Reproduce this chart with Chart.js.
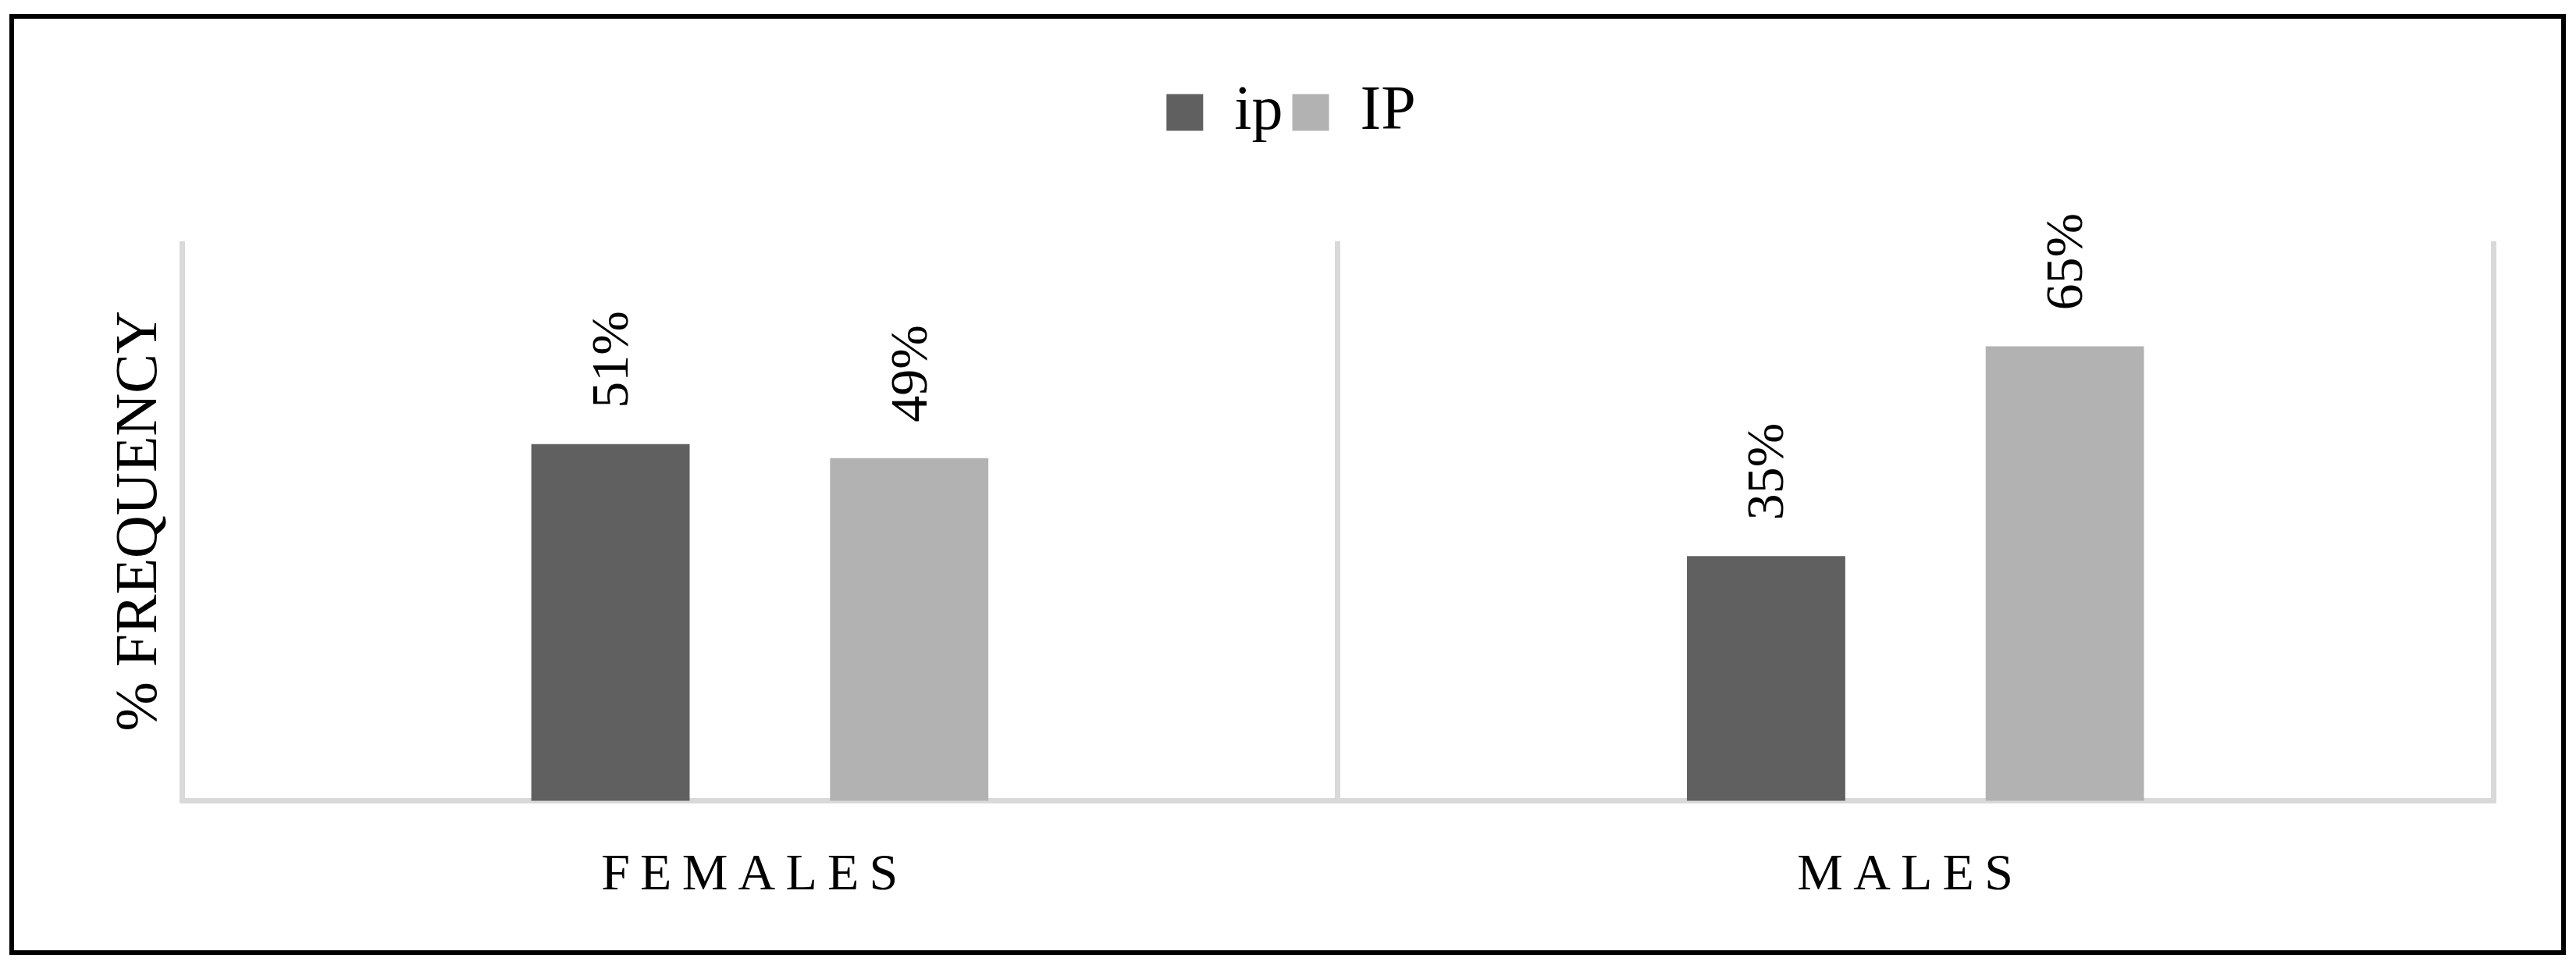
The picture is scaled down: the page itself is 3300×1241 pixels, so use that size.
<!DOCTYPE html>
<html>
<head>
<meta charset="utf-8">
<script src="https://cdn.jsdelivr.net/npm/chart.js@4.4.0/dist/chart.umd.min.js"></script>
<style>
  html, body { margin: 0; padding: 0; background: #fff; }
  #frame {
    position: absolute;
    left: 12px;
    top: 18px;
    border: 6px solid #000;
    width: 3263px;
    height: 1193px;
  }
  #chart { display: block; }
</style>
</head>
<body>
<div id="frame"><canvas id="chart" width="3263" height="1193"></canvas></div>
<script>
// dados do gráfico
const categories = ['FEMALES', 'MALES'];
const seriesNames = ['ip', 'IP'];
const ipValues = [51, 35];
const IPValues = [49, 65];
const yAxisTitle = '% FREQUENCY';

const serif = "'Palatino Linotype', 'Book Antiqua', Palatino, 'Liberation Serif', serif";

// Rótulos rotacionados acima das barras
const barLabels = {
  id: 'barLabels',
  afterDatasetsDraw(chart) {
    const ctx = chart.ctx;
    ctx.save();
    ctx.font = '68px ' + serif;
    ctx.fillStyle = '#000';
    ctx.textAlign = 'left';
    ctx.textBaseline = 'middle';
    chart.data.datasets.forEach((ds, i) => {
      chart.getDatasetMeta(i).data.forEach((bar, j) => {
        ctx.save();
        ctx.translate(bar.x + 4, bar.y - 46);
        ctx.rotate(-Math.PI / 2);
        ctx.fillText(ds.data[j] + '%', 0, 0);
        ctx.restore();
      });
    });
    ctx.restore();
  }
};

// Espaço extra abaixo da legenda
const legendGap = {
  id: 'legendGap',
  beforeInit(chart) {
    const fit = chart.legend.fit;
    chart.legend.fit = function () {
      fit.bind(chart.legend)();
      this.height += 115;
    };
  }
};

new Chart(document.getElementById('chart'), {
  type: 'bar',
  data: {
    labels: categories,
    datasets: [
      {
        label: seriesNames[0],
        data: ipValues,
        backgroundColor: '#606060',
        categoryPercentage: 0.517,
        barPercentage: 0.53,
      },
      {
        label: seriesNames[1],
        data: IPValues,
        backgroundColor: '#b2b2b2',
        categoryPercentage: 0.517,
        barPercentage: 0.53,
      },
    ],
  },
  options: {
    responsive: false,
    animation: false,
    layout: { padding: { top: 68, left: 96, right: 87, bottom: 0 } },
    plugins: {
      tooltip: { enabled: false },
      legend: {
        position: 'top',
        labels: {
          boxWidth: 47,
          boxHeight: 47,
          padding: 12,
          color: '#000',
          font: { family: serif, size: 80 },
        },
      },
    },
    scales: {
      x: {
        z: 1,
        grid: {
          display: true,
          offset: true,
          color: '#d9d9d9',
          lineWidth: 7,
          drawTicks: false,
        },
        border: { display: true, color: '#d9d9d9', width: 7 },
        ticks: {
          padding: 56,
          color: '#000',
          font: { family: serif, size: 66 },
          callback: function (value) {
            // espaçamento entre letras, com espaço final como no original
            return this.getLabelForValue(value).split('').join('\u2009') + '\u2009\u2009';
          },
        },
      },
      y: {
        min: 0,
        max: 80,
        grid: { display: false },
        border: { display: false },
        ticks: { display: false },
        title: {
          display: true,
          text: yAxisTitle,
          color: '#000',
          padding: { top: 20, bottom: 0 },
          font: { family: serif, size: 76 },
        },
      },
    },
  },
  plugins: [barLabels, legendGap],
});
</script>
</body>
</html>
